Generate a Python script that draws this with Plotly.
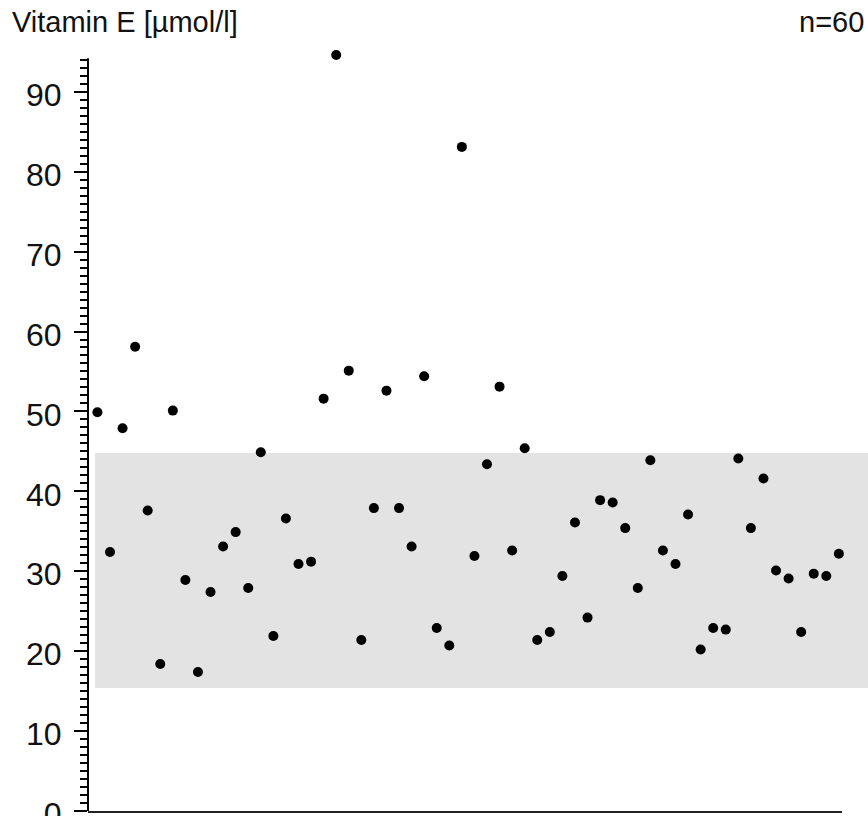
import plotly.graph_objects as go

sample_index = list(range(1, 61))
vitamin_e = [
    49.9, 32.4, 47.9, 58.1, 37.6, 18.4, 50.1, 28.9, 17.4, 27.4,
    33.1, 34.9, 27.9, 44.9, 21.9, 36.6, 30.9, 31.2, 51.6, 94.6,
    55.1, 21.4, 37.9, 52.6, 37.9, 33.1, 54.4, 22.9, 20.7, 83.1,
    31.9, 43.4, 53.1, 32.6, 45.4, 21.4, 22.4, 29.4, 36.1, 24.2,
    38.9, 38.6, 35.4, 27.9, 43.9, 32.6, 30.9, 37.1, 20.2, 22.9,
    22.7, 44.1, 35.4, 41.6, 30.1, 29.1, 22.4, 29.7, 29.4, 32.2,
]
ref_low, ref_high = 15.4, 44.8
axis_top = 94.2
y_ticks = [0, 10, 20, 30, 40, 50, 60, 70, 80, 90]
title_text = "Vitamin E [µmol/l]"
n_text = "n=60"

FONT = "Liberation Sans, Arial, sans-serif"

W, H = 868, 816
ML, MR, MT, MB = 88, 26, 53, 5
PW = W - ML - MR
PH = H - MT - MB


def px_x(x):
    return (x - ML) / PW


def px_y(y):
    return (H - MB - y) / PH


fig = go.Figure()
fig.add_trace(go.Scatter(
    x=sample_index, y=vitamin_e, mode="markers",
    marker=dict(size=10, color="black"),
    cliponaxis=False, showlegend=False, hoverinfo="y",
))

fig.add_shape(type="rect", xref="paper", yref="y",
              x0=px_x(95), x1=px_x(870), y0=ref_low, y1=ref_high,
              fillcolor="#e3e3e3", line=dict(width=0), layer="below")
fig.add_shape(type="line", xref="paper", yref="y",
              x0=0, x1=0, y0=0, y1=axis_top,
              line=dict(color="black", width=2), layer="above")

fig.update_layout(
    width=W, height=H,
    margin=dict(l=ML, r=MR, t=MT, b=MB, autoexpand=False),
    paper_bgcolor="white", plot_bgcolor="white",
    font=dict(family=FONT, size=29, color="#111"),
    xaxis=dict(range=[0.25, 60.25], showgrid=False, zeroline=False,
               showticklabels=False, ticks="", showline=True,
               linecolor="#222", linewidth=2, automargin=False),
    yaxis=dict(range=[0, 94.85], showgrid=False, zeroline=False,
               tickmode="array", tickvals=y_ticks, automargin=False,
               ticks="outside", ticklen=13, tickwidth=1.5, tickcolor="black",
               showline=False,
               ticklabelstandoff=6, ticklabelshift=3,
               ticklabeloverflow="allow",
               minor=dict(dtick=1, ticks="outside", ticklen=7,
                          tickwidth=1.5, tickcolor="black", showgrid=False),
               tickfont=dict(size=32, color="#111")),
    annotations=[
        dict(text=title_text, xref="paper", yref="paper",
             x=px_x(10), y=px_y(22), xanchor="left", yanchor="middle",
             showarrow=False, font=dict(size=29)),
        dict(text=n_text, xref="paper", yref="paper",
             x=px_x(866), y=px_y(22), xanchor="right", yanchor="middle",
             showarrow=False, font=dict(size=29)),
    ],
)

fig.write_html("out.html")
